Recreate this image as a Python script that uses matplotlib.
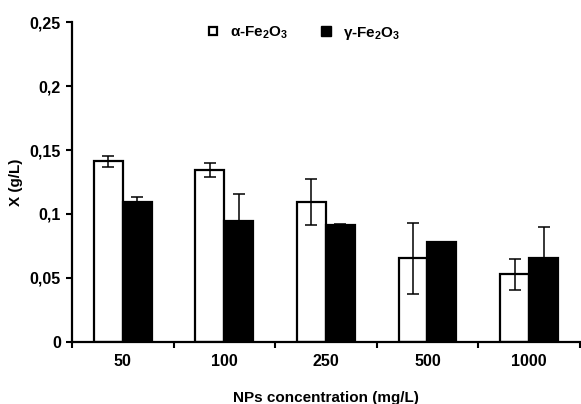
import matplotlib
matplotlib.use('Agg')
import matplotlib.pyplot as plt
from matplotlib.lines import Line2D
import numpy as np

plt.rcParams['font.family'] = ['Liberation Sans', 'DejaVu Sans']
plt.rcParams['font.weight'] = 'bold'
plt.rcParams['mathtext.fontset'] = 'custom'
plt.rcParams['mathtext.rm'] = 'Liberation Sans:bold'
plt.rcParams['mathtext.default'] = 'rm'

categories = ['50', '100', '250', '500', '1000']
alpha_vals = [0.1414, 0.1344, 0.1091, 0.0654, 0.0529]
alpha_err = [0.0043, 0.0052, 0.0180, 0.0278, 0.0122]
gamma_vals = [0.1096, 0.0948, 0.0917, 0.0779, 0.0659]
gamma_err = [0.0035, 0.0205, 0.0008, 0.0, 0.0243]
yticks = [0, 0.05, 0.1, 0.15, 0.2, 0.25]
ytick_labels = ['0', '0,05', '0,1', '0,15', '0,2', '0,25']

fig = plt.figure(figsize=(5.81, 4.04), dpi=100)
ax = fig.add_axes([0.1239, 0.1535, 0.8741, 0.792])

x = np.arange(len(categories))
w = 0.285
ekw = dict(ecolor='black', elinewidth=1.1, capsize=4, capthick=1.1)
ax.bar(x - w / 2, alpha_vals, w, color='white', edgecolor='black', linewidth=1.6,
       yerr=alpha_err, error_kw=ekw, zorder=2)
ax.bar(x + w / 2, gamma_vals, w, color='black', edgecolor='black', linewidth=1.6,
       yerr=gamma_err, error_kw=ekw, zorder=2)

ax.set_xlim(-0.5, len(categories) - 0.5)
ax.set_ylim(0, 0.25)
ax.set_yticks(yticks)
ax.set_yticklabels(ytick_labels)
ax.set_xticks(x)
ax.set_xticklabels(categories)
ax.set_xticks(np.arange(len(categories) + 1) - 0.5, minor=True)
ax.tick_params(axis='x', which='major', length=0, pad=9, labelsize=11.5)
ax.tick_params(axis='x', which='minor', length=4, width=1.5, direction='out')
ax.tick_params(axis='y', length=4, width=1.5, direction='out', pad=4, labelsize=11.5)

for s in ['top', 'right']:
    ax.spines[s].set_visible(False)
for s in ['left', 'bottom']:
    ax.spines[s].set_linewidth(1.6)

ax.set_xlabel('NPs concentration (mg/L)', fontsize=11, fontweight='bold')
ax.xaxis.set_label_coords(0.5, -0.153)
ax.set_ylabel('X (g/L)', fontsize=11, fontweight='bold', labelpad=5)

handles = [
    Line2D([], [], linestyle='none', marker='s', markersize=6, markerfacecolor='white',
           markeredgecolor='black', markeredgewidth=1.6),
    Line2D([], [], linestyle='none', marker='s', markersize=7, markerfacecolor='black',
           markeredgecolor='black'),
]
ax.legend(handles, [r'α-Fe$_2$O$_3$', r'γ-Fe$_2$O$_3$'], loc='upper center',
          bbox_to_anchor=(0.455, 1.035), ncol=2, frameon=False, fontsize=11,
          handletextpad=0.6, columnspacing=2.0, handlelength=1.0)

fig.savefig('out.png', dpi=100)
